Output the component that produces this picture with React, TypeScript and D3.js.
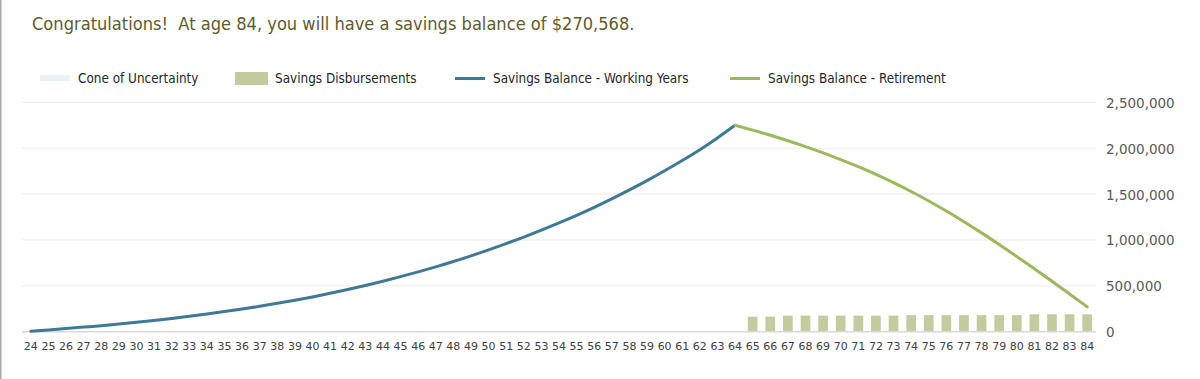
import React from "react";
import * as d3 from "d3";

if (typeof document !== "undefined") {
  document.body.style.margin = "0";
}

const ages: number[] = [
  24, 25, 26, 27, 28, 29, 30, 31, 32, 33, 34, 35, 36, 37, 38, 39, 40, 41, 42, 43, 44,
  45, 46, 47, 48, 49, 50, 51, 52, 53, 54, 55, 56, 57, 58, 59, 60, 61, 62, 63, 64, 65,
  66, 67, 68, 69, 70, 71, 72, 73, 74, 75, 76, 77, 78, 79, 80, 81, 82, 83, 84,
];

// Savings balance during working years, ages 24..64
const workingAges: number[] = [
  24, 25, 26, 27, 28, 29, 30, 31, 32, 33, 34, 35, 36, 37, 38, 39, 40, 41, 42, 43, 44,
  45, 46, 47, 48, 49, 50, 51, 52, 53, 54, 55, 56, 57, 58, 59, 60, 61, 62, 63, 64,
];
const workingBalance: number[] = [
  5000, 19000, 34000, 50000, 66000, 84000, 103000, 123000, 145000, 168000, 193000,
  219000, 247000, 277000, 309000, 343000, 379000, 418000, 459000, 503000, 550000,
  600000, 652000, 707000, 765000, 827000, 892000, 960000, 1031000, 1106000, 1185000,
  1268000, 1356000, 1448000, 1545000, 1647000, 1754000, 1866000, 1984000, 2112000, 2250000,
];

// Savings balance during retirement, ages 64..84
const retireAges: number[] = [
  64, 65, 66, 67, 68, 69, 70, 71, 72, 73, 74, 75, 76, 77, 78, 79, 80, 81, 82, 83, 84,
];
const retireBalance: number[] = [
  2250000, 2197000, 2141000, 2081000, 2017000, 1949000, 1876000, 1798000, 1714000,
  1624000, 1528000, 1425000, 1315000, 1199000, 1077000, 950000, 819000, 685000, 549000,
  411000, 270568,
];

// Savings disbursements, ages 65..84
const disburseAges: number[] = [
  65, 66, 67, 68, 69, 70, 71, 72, 73, 74, 75, 76, 77, 78, 79, 80, 81, 82, 83, 84,
];
const disbursements: number[] = [
  164000, 164000, 175000, 175000, 175000, 175000, 175000, 175000, 175000, 181000, 181000,
  181000, 181000, 181000, 181000, 181000, 190000, 190000, 190000, 190000,
];

const yTicks: number[] = [0, 500000, 1000000, 1500000, 2000000, 2500000];

const legendItems = [
  { label: "Cone of Uncertainty", kind: "cone" },
  { label: "Savings Disbursements", kind: "bar" },
  { label: "Savings Balance - Working Years", kind: "work" },
  { label: "Savings Balance - Retirement", kind: "retire" },
];

const titleText = "Congratulations!  At age 84, you will have a savings balance of $270,568.";

const W = 1200;
const H = 379;
const COL_WORK = "#3e7a95";
const COL_RET = "#9bb95b";
const COL_BAR = "#c4cb9f";
const COL_CONE = "#e9f1f4";
const NARROW = "'DejaVu Sans Condensed', 'Liberation Sans Narrow', Arial, sans-serif";

export default function App() {
  const x = d3
    .scaleBand<number>()
    .domain(ages)
    .range([22, 1096])
    .paddingInner(0.45)
    .paddingOuter(0.225);
  const xc = (a: number) => (x(a) as number) + x.bandwidth() / 2;
  const y = d3.scaleLinear().domain([0, 2500000]).range([331.7, 102.3]);

  const lineWork = d3
    .line<number>()
    .x((_, i) => xc(workingAges[i]))
    .y((v) => y(v))
    .curve(d3.curveMonotoneX);
  const lineRet = d3
    .line<number>()
    .x((_, i) => xc(retireAges[i]))
    .y((v) => y(v))
    .curve(d3.curveMonotoneX);

  const fmt = d3.format(",");
  const legendX = [40, 235, 455, 730];

  return (
    <svg width={W} height={H} style={{ display: "block", background: "#fff" }}>
      <rect x={0} y={0} width={1.5} height={H} fill="#a6a6a6" />
      <text
        x={32}
        y={30}
        fontFamily={NARROW}
        fontSize={18.1}
        fill="#5e5c2c"
        style={{ whiteSpace: "pre" }}
      >
        {titleText}
      </text>

      {legendItems.map((it, i) => {
        const lx = legendX[i];
        return (
          <g key={it.label}>
            {it.kind === "cone" && <rect x={lx} y={75} width={30} height={6} fill={COL_CONE} />}
            {it.kind === "bar" && <rect x={lx} y={72} width={33} height={13} fill={COL_BAR} />}
            {it.kind === "work" && (
              <line x1={lx} x2={lx + 30} y1={78.5} y2={78.5} stroke={COL_WORK} strokeWidth={3} />
            )}
            {it.kind === "retire" && (
              <line x1={lx} x2={lx + 30} y1={78.5} y2={78.5} stroke={COL_RET} strokeWidth={3} />
            )}
            <text
              x={lx + (it.kind === "bar" ? 40 : 38)}
              y={83}
              fontFamily={NARROW}
              fontSize={13.4}
              fill="#262626"
            >
              {it.label}
            </text>
          </g>
        );
      })}

      {yTicks.map((t) => (
        <g key={t}>
          {t > 0 && (
            <line x1={22} x2={1096} y1={y(t)} y2={y(t)} stroke="#ececec" strokeWidth={1} />
          )}
          <text
            x={1106}
            y={y(t) + 5.5}
            fontFamily="'DejaVu Sans', Verdana, sans-serif"
            fontSize={13.5}
            fill="#595959"
          >
            {fmt(t)}
          </text>
        </g>
      ))}

      {disbursements.map((v, i) => (
        <rect
          key={disburseAges[i]}
          x={x(disburseAges[i])}
          y={y(v)}
          width={x.bandwidth()}
          height={y(0) - y(v)}
          fill={COL_BAR}
        />
      ))}

      <line x1={22} x2={1096} y1={y(0)} y2={y(0)} stroke="#d9d9d9" strokeWidth={1.5} />

      <path d={lineWork(workingBalance) || ""} fill="none" stroke={COL_WORK} strokeWidth={3} strokeLinecap="round" />
      <path d={lineRet(retireBalance) || ""} fill="none" stroke={COL_RET} strokeWidth={3} strokeLinecap="round" />

      {ages.map((a) => (
        <text
          key={a}
          x={xc(a)}
          y={349.5}
          textAnchor="middle"
          fontFamily="'DejaVu Sans', Verdana, sans-serif"
          fontSize={11}
          fill="#404040"
        >
          {a}
        </text>
      ))}
    </svg>
  );
}
